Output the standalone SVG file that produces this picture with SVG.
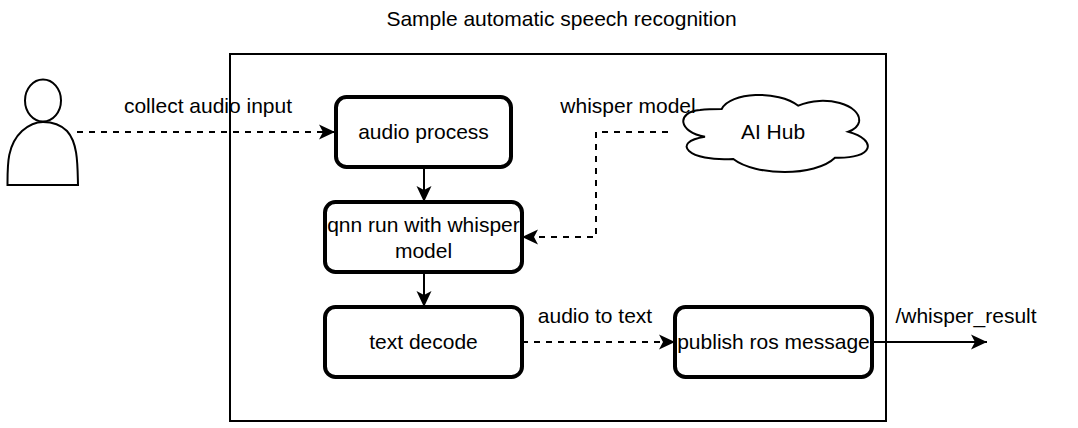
<svg xmlns="http://www.w3.org/2000/svg" width="1078" height="428" viewBox="0 0 1078 428">
<style>
text{font-family:"Liberation Sans",Arial,sans-serif;font-size:21px;fill:#000;text-anchor:middle}
.box{fill:#fff;stroke:#000;stroke-width:4}
.line{fill:#fff;stroke:#000;stroke-width:2}
.c{fill:none;stroke:#000;stroke-width:2}
.d{stroke-dasharray:6 6}
</style>
<defs>
<marker id="a" markerUnits="userSpaceOnUse" markerWidth="17" markerHeight="16" refX="16" refY="8" orient="auto"><path d="M0 0.500L16 8L0 15.500L4 8Z" fill="#000"/></marker>
</defs>
<rect width="1078" height="428" fill="#fff"/>
<text x="561.500" y="26">Sample automatic speech recognition</text>
<g id="frame"><rect x="230" y="54" width="656" height="367" fill="none" stroke="#000" stroke-width="2"/></g>
<g id="person">
<path class="line" d="M7.500 185C7.500 165 7 145 22 131C30 124 36 122 43 122C50 122 60 124 67 131C78 143 77.500 165 78 185Z"/>
<ellipse class="line" cx="43" cy="100.500" rx="18" ry="21"/>
</g>
<g id="audio-process"><rect class="box" x="336" y="97" width="175" height="70" rx="10.500"/><text x="423.500" y="139">audio process</text></g>
<g id="qnn"><rect class="box" x="325" y="202" width="197" height="70" rx="10.500"/><text x="423.500" y="232">qnn run with whisper</text><text x="423.500" y="258">model</text></g>
<g id="text-decode"><rect class="box" x="325" y="307" width="197" height="70" rx="10.500"/><text x="423.500" y="349">text decode</text></g>
<g id="publish"><rect class="box" x="675" y="307" width="197" height="70" rx="10.500"/><text x="773.500" y="349">publish ros message</text></g>
<g id="ai-hub">
<path class="line" d="M705 136.700C678 132 676 112 700 110C708 109 715 109 721.700 109C730 92 778 90 798.300 105.700C825 94 862 105 859 122C858 127 853 130 848.300 131.700C878 140 874 159 835 157.700C815 177 755 176 733.300 159C688 162 670 142 705 136.700Z"/>
<text x="773" y="139">AI Hub</text>
</g>
<g id="connectors">
<path class="c d" d="M77 132H335" marker-end="url(#a)"/>
<path class="c" d="M424 167V202" marker-end="url(#a)"/>
<path class="c" d="M424 272V307" marker-end="url(#a)"/>
<path class="c d" d="M668 132H596V237H522" marker-end="url(#a)"/>
<path class="c d" d="M522 342H675" marker-end="url(#a)"/>
<path class="c" d="M872 342H987" marker-end="url(#a)"/>
</g>
<g id="labels">
<text x="208" y="113">collect audio input</text>
<text x="628" y="113">whisper model</text>
<text x="595" y="323">audio to text</text>
<text x="966" y="323">/whisper_result</text>
</g>
</svg>
